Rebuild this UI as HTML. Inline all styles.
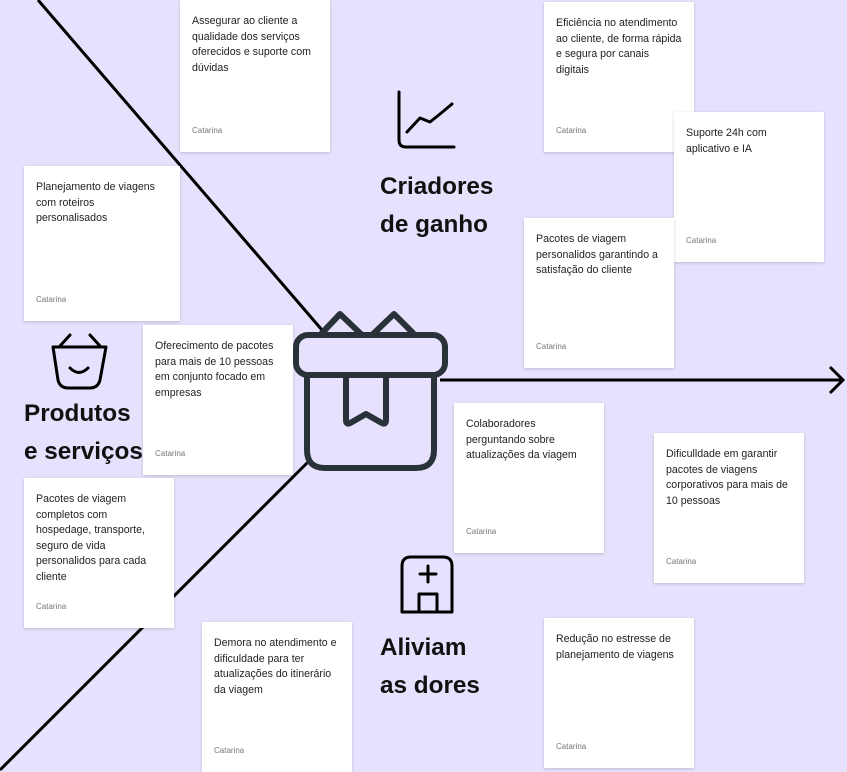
<!DOCTYPE html>
<html><head><meta charset="utf-8"><style>
body{margin:0;width:847px;height:772px;overflow:hidden;background:#e7e1fd;position:relative;font-family:"Liberation Sans",sans-serif}
.c{position:absolute;width:150px;height:150px;background:#fff;box-shadow:0 1px 3px rgba(0,0,0,.18);box-sizing:border-box;padding:14px 0 0 12px;font-size:10.6px;line-height:15.5px;color:#222;white-space:nowrap}
.c i{position:absolute;left:12px;bottom:14px;font-style:normal;font-size:8px;color:#777}
.t{position:absolute;font-weight:bold;font-size:24.3px;line-height:38px;color:#111}
svg{position:absolute;left:0;top:0}
</style></head><body>
<svg width="847" height="772">
<g stroke="#000" stroke-width="3" fill="none">
<line x1="38" y1="0" x2="322" y2="330"/>
<line x1="0" y1="770" x2="310" y2="460"/>
<line x1="440" y1="380" x2="843" y2="380"/>
<polyline points="830,367 843,380 830,393"/>
</g>
</svg>
<div class="c" style="left:180px;top:0;height:152px">Assegurar ao cliente a<br>qualidade dos serviços<br>oferecidos e suporte com<br>dúvidas<i>Catarina</i></div>
<div class="c" style="left:544px;top:2px">Eficiência no atendimento<br>ao cliente, de forma rápida<br>e segura por canais<br>digitais<i>Catarina</i></div>
<div class="c" style="left:674px;top:112px">Suporte 24h com<br>aplicativo e IA<i>Catarina</i></div>
<div class="c" style="left:524px;top:218px">Pacotes de viagem<br>personalidos garantindo a<br>satisfação do cliente<i>Catarina</i></div>
<div class="c" style="left:24px;top:166px;width:156px;height:155px">Planejamento de viagens<br>com roteiros<br>personalisados<i>Catarina</i></div>
<div class="c" style="left:143px;top:325px">Oferecimento de pacotes<br>para mais de 10 pessoas<br>em conjunto focado em<br>empresas<i>Catarina</i></div>
<div class="c" style="left:24px;top:478px">Pacotes de viagem<br>completos com<br>hospedage, transporte,<br>seguro de vida<br>personalidos para cada<br>cliente<i>Catarina</i></div>
<div class="c" style="left:454px;top:403px">Colaboradores<br>perguntando sobre<br>atualizações da viagem<i>Catarina</i></div>
<div class="c" style="left:654px;top:433px">Dificulldade em garantir<br>pacotes de viagens<br>corporativos para mais de<br>10 pessoas<i>Catarina</i></div>
<div class="c" style="left:202px;top:622px">Demora no atendimento e<br>dificuldade para ter<br>atualizações do itinerário<br>da viagem<i>Catarina</i></div>
<div class="c" style="left:544px;top:618px">Redução no estresse de<br>planejamento de viagens<i>Catarina</i></div>
<svg width="847" height="772" style="pointer-events:none">
<g fill="none" stroke="#283238" stroke-width="6" stroke-linejoin="round" stroke-linecap="round">
<path d="M322,333 L340,314 L362,335 M372,335 L394,314 L413,333"/>
<rect x="296" y="335" width="149" height="40" rx="12"/>
<path d="M307,375 V450 Q307,468 325,468 H416 Q434,468 434,450 V375"/>
<path d="M346,375 V420 Q346,426 352,422 L366,414 L380,422 Q386,426 386,420 V375"/>
</g>
<g fill="none" stroke="#000" stroke-width="3" stroke-linecap="round" stroke-linejoin="round">
<path d="M399,92 V140 Q399,147 406,147 H454"/>
<path d="M407,132 L420,118 L430,122 L440,114 L452,104"/>
<path d="M60,346 L70,335 M90,335 L100,346"/>
<path d="M53,347 H106 L100,380 Q98,388 90,388 H68 Q60,388 58,380 Z"/>
<path d="M70,368 Q79,377 88,368"/>
<path d="M402,612 V566 Q402,557 411,557 H443 Q452,557 452,566 V612 Z"/>
<path d="M428,566 V582 M420,574 H436"/>
<path d="M419,612 V594 H437 V612"/>
</g>
</svg>
<div class="t" style="left:380px;top:168px">Criadores<br>de ganho</div>
<div class="t" style="left:24px;top:395px">Produtos<br>e serviços</div>
<div class="t" style="left:380px;top:629px">Aliviam<br>as dores</div>
</body></html>
